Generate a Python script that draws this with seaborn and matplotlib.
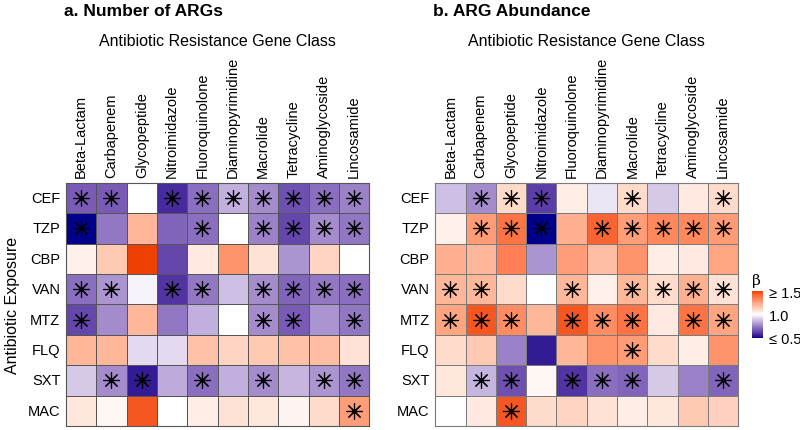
import numpy as np
import pandas as pd
import matplotlib
matplotlib.use("Agg")
import matplotlib.pyplot as plt
import seaborn as sns
from matplotlib.colors import ListedColormap, to_rgb

exposures = ["CEF", "TZP", "CBP", "VAN", "MTZ", "FLQ", "SXT", "MAC"]
gene_classes = ["Beta-Lactam", "Carbapenem", "Glycopeptide", "Nitroimidazole",
                "Fluoroquinolone", "Diaminopyrimidine", "Macrolide", "Tetracycline",
                "Aminoglycoside", "Lincosamide"]

# panel a: number of ARGs (beta estimates)
count_beta = [
    [0.68, 0.68, 1.00, 0.58, 0.72, 0.85, 0.78, 0.66, 0.72, 0.76],
    [0.45, 0.74, 1.20, 0.70, 0.72, 1.00, 0.76, 0.64, 0.78, 0.74],
    [1.04, 1.15, 1.55, 0.64, 1.06, 1.30, 1.08, 0.80, 1.12, 1.00],
    [0.72, 0.80, 0.98, 0.60, 0.74, 0.88, 0.78, 0.70, 0.74, 0.72],
    [0.64, 0.78, 1.20, 0.74, 0.85, 1.00, 0.78, 0.68, 0.80, 0.74],
    [1.20, 1.20, 0.93, 0.93, 1.17, 1.12, 1.15, 1.17, 1.18, 1.08],
    [0.90, 0.78, 0.55, 0.84, 0.72, 0.85, 0.78, 0.86, 0.80, 0.74],
    [1.07, 1.02, 1.45, 1.00, 1.05, 1.08, 1.07, 1.03, 1.10, 1.27],
]
count_sig = [
    [1, 1, 0, 1, 1, 1, 1, 1, 1, 1],
    [1, 0, 0, 0, 1, 0, 1, 1, 1, 1],
    [0, 0, 0, 0, 0, 0, 0, 0, 0, 0],
    [1, 1, 0, 1, 1, 0, 1, 1, 1, 1],
    [1, 0, 0, 0, 0, 0, 1, 1, 0, 1],
    [0, 0, 0, 0, 0, 0, 0, 0, 0, 0],
    [0, 1, 1, 0, 1, 0, 1, 0, 1, 1],
    [0, 0, 0, 0, 0, 0, 0, 0, 0, 1],
]

# panel b: ARG abundance (beta estimates)
abund_beta = [
    [0.88, 0.78, 1.10, 0.62, 1.05, 0.95, 1.10, 0.90, 1.06, 1.10],
    [1.04, 1.28, 1.38, 0.45, 1.22, 1.42, 1.27, 1.33, 1.33, 1.28],
    [1.22, 1.20, 1.35, 0.80, 1.27, 1.18, 1.30, 1.05, 1.06, 1.25],
    [1.20, 1.20, 1.10, 1.00, 1.20, 1.04, 1.20, 1.10, 1.22, 1.08],
    [1.25, 1.45, 1.32, 1.20, 1.45, 1.32, 1.38, 1.06, 1.38, 1.25],
    [1.10, 1.15, 0.76, 0.55, 1.20, 1.30, 1.28, 1.10, 1.05, 1.30],
    [1.07, 0.86, 0.66, 1.02, 0.60, 0.72, 0.70, 0.90, 0.76, 0.70],
    [1.00, 1.06, 1.45, 1.10, 1.12, 1.08, 1.05, 1.07, 1.15, 1.13],
]
abund_sig = [
    [0, 1, 1, 1, 0, 0, 1, 0, 0, 1],
    [0, 1, 1, 1, 0, 1, 1, 1, 1, 1],
    [0, 0, 0, 0, 0, 0, 0, 0, 0, 0],
    [1, 1, 0, 0, 1, 0, 1, 1, 1, 1],
    [1, 1, 1, 0, 1, 1, 1, 0, 1, 1],
    [0, 0, 0, 0, 0, 0, 1, 0, 0, 0],
    [0, 1, 1, 0, 1, 1, 1, 0, 0, 1],
    [0, 0, 1, 0, 0, 0, 0, 0, 0, 0],
]

WHITE = np.array([0.95047, 1.0, 1.08883])
M = np.array([[0.4124, 0.3576, 0.1805], [0.2126, 0.7152, 0.0722], [0.0193, 0.1192, 0.9505]])


def to_lab(rgb):
    c = np.asarray(rgb, float)
    c = np.where(c <= 0.04045, c / 12.92, ((c + 0.055) / 1.055) ** 2.4)
    xyz = (M @ c) / WHITE
    f = np.where(xyz > 0.008856, np.cbrt(xyz), 7.787 * xyz + 16 / 116)
    return np.array([116 * f[1] - 16, 500 * (f[0] - f[1]), 200 * (f[1] - f[2])])


def from_lab(lab):
    fy = (lab[0] + 16) / 116
    f = np.array([fy + lab[1] / 500, fy, fy - lab[2] / 200])
    xyz = np.where(f ** 3 > 0.008856, f ** 3, (f - 16 / 116) / 7.787) * WHITE
    c = np.linalg.solve(M, xyz)
    c = np.where(c <= 0.0031308, 12.92 * c, 1.055 * np.clip(c, 0, None) ** (1 / 2.4) - 0.055)
    return np.clip(c, 0, 1)


def lab_gradient(low, mid, high, n=256):
    lo, mi, hi = to_lab(to_rgb(low)), to_lab(to_rgb(mid)), to_lab(to_rgb(high))
    cols = []
    for t in np.linspace(0, 1, n):
        if t < 0.5:
            lab = lo + (mi - lo) * (t / 0.5)
        else:
            lab = mi + (hi - mi) * ((t - 0.5) / 0.5)
        cols.append(from_lab(lab))
    return ListedColormap(cols)


cmap = lab_gradient("#00008B", "#FFFFFF", "#EE4000")

plt.rcParams["font.family"] = ["Liberation Sans", "DejaVu Sans"]

fig = plt.figure(figsize=(8, 4.31), dpi=100)
ax_a = fig.add_axes([0.0825, 0.0093, 0.379, 0.564])
ax_b = fig.add_axes([0.544, 0.0093, 0.379, 0.564])
cax = fig.add_axes([0.94, 0.2135, 0.01375, 0.109])

panels = [
    (ax_a, count_beta, count_sig, "a. Number of ARGs", "#555555"),
    (ax_b, abund_beta, abund_sig, "b. ARG Abundance", "#7a7a7a"),
]
for i, (ax, beta, sig, title, lc) in enumerate(panels):
    df = pd.DataFrame(beta, index=exposures, columns=gene_classes)
    sns.heatmap(df, ax=ax, cmap=cmap, vmin=0.5, vmax=1.5, linewidths=0.6,
                linecolor=lc, cbar=(i == 1), cbar_ax=cax if i == 1 else None,
                square=False)
    s = np.array(sig)
    rr, cc = np.nonzero(s)
    ax.scatter(cc + 0.5, rr + 0.5, marker=(8, 2, 0), s=130, c="black",
               linewidths=0.85, zorder=3)
    ax.xaxis.tick_top()
    ax.xaxis.set_label_position("top")
    ax.set_xticklabels(gene_classes, rotation=90, fontsize=10.5, va="bottom", ha="center")
    ax.set_yticklabels(exposures, rotation=0, fontsize=10.5)
    ax.tick_params(length=0, pad=4)
    ax.set_xlabel("Antibiotic Resistance Gene Class", fontsize=11.5, labelpad=8)
    ax.set_ylabel("Antibiotic Exposure" if i == 0 else "", fontsize=11.5, labelpad=6)
    for sp in ax.spines.values():
        sp.set_visible(True)
        sp.set_color(lc)
        sp.set_linewidth(0.8)
    x0 = ax.get_position().x0
    fig.text(x0 - 0.003, 0.99, title, fontsize=12.5, fontweight="bold", ha="left", va="top")

cbar = ax_b.collections[0].colorbar
cbar.set_ticks([0.5, 1.0, 1.5])
cbar.set_ticklabels(["\u2264 0.5", "1.0", "\u2265 1.5"])
cbar.ax.tick_params(length=0, labelsize=10.5, pad=4)
cbar.outline.set_visible(False)
cbar.ax.set_title("\u03b2", fontsize=11, loc="left", pad=5, family="DejaVu Serif")

fig.savefig("out.png", dpi=100)
